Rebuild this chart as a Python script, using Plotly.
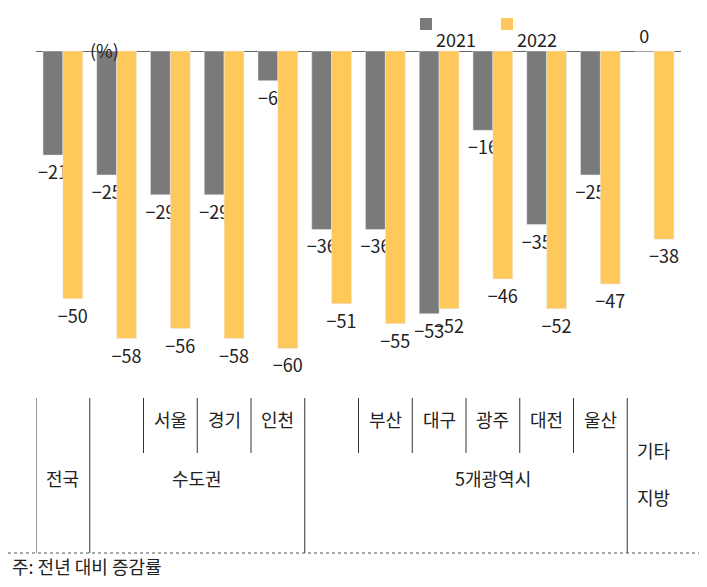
import plotly.graph_objects as go

categories = ["전국", "수도권", "서울", "경기", "인천", "5개광역시", "부산", "대구", "광주", "대전", "울산", "기타지방"]
y2021 = [-21, -25, -29, -29, -6, -36, -36, -53, -16, -35, -25, 0]
y2022 = [-50, -58, -56, -58, -60, -51, -55, -52, -46, -52, -47, -38]

FONT = "Noto Sans CJK KR"
GREY = "#7a7a7a"
YELLOW = "#FFC85A"

# plot area in pixels: x 28..673, y 43..390
TOP, BOT = 43, 390
L, R = 28, 673


def py(p):
    return (BOT - p) / (BOT - TOP)


def px(p):
    return (p - L) / (R - L)


def lab(v):
    return str(v).replace("-", "\u2212")


fig = go.Figure()
fig.add_trace(go.Bar(x=list(range(12)), y=y2021, name="2021", marker_color=GREY,
                     text=[lab(v) for v in y2021], textposition="outside", cliponaxis=False,
                     constraintext="none", textfont=dict(size=18, color="#222")))
fig.add_trace(go.Bar(x=list(range(12)), y=y2022, name="2022", marker_color=YELLOW,
                     text=[lab(v) for v in y2022], textposition="outside", cliponaxis=False,
                     constraintext="none", textfont=dict(size=18, color="#222")))

shapes = []
line = dict(color="#333", width=1)
for xv in [-0.5, 0.5, 4.5, 10.5]:
    shapes.append(dict(type="line", xref="x", yref="paper", x0=xv, x1=xv, y0=py(390), y1=py(545), line=line))
for xv in [1.5, 2.5, 3.5, 5.5, 6.5, 7.5, 8.5, 9.5]:
    shapes.append(dict(type="line", xref="x", yref="paper", x0=xv, x1=xv, y0=py(390), y1=py(445), line=line))
shapes.append(dict(type="line", xref="paper", yref="paper", x0=px(0), x1=px(707),
                   y0=py(545), y1=py(545), line=dict(color="#555", width=1, dash="dot")))
# manual legend swatches
for x0, c in [(412, GREY), (493, YELLOW)]:
    shapes.append(dict(type="rect", xref="paper", yref="paper", x0=px(x0), x1=px(x0 + 12),
                       y0=py(22), y1=py(10), fillcolor=c, line=dict(width=0)))

ann = []
for i in [2, 3, 4, 6, 7, 8, 9, 10]:
    ann.append(dict(x=i, y=py(426), xref="x", yref="paper", text=categories[i], showarrow=False,
                    font=dict(size=18, color="#222")))
for xv, txt in [(0, "전국"), (2.5, "수도권"), (8, "5개광역시")]:
    ann.append(dict(x=xv, y=py(485), xref="x", yref="paper", text=txt, showarrow=False,
                    font=dict(size=18, color="#222")))
ann.append(dict(x=11, y=py(504), xref="x", yref="paper", text="기타<br><br>지방", showarrow=False,
                font=dict(size=18, color="#222")))
ann.append(dict(x=px(80), y=py(27), xref="paper", yref="paper", text="(%)", showarrow=False,
                font=dict(size=18, color="#222")))
ann.append(dict(x=px(426), y=py(16), xref="paper", yref="paper", text="2021", showarrow=False,
                xanchor="left", font=dict(size=18, color="#222")))
ann.append(dict(x=px(507), y=py(16), xref="paper", yref="paper", text="2022", showarrow=False,
                xanchor="left", font=dict(size=18, color="#222")))
ann.append(dict(x=px(2), y=py(573), xref="paper", yref="paper", text="주: 전년 대비 증감률",
                showarrow=False, xanchor="left", font=dict(size=18, color="#222")))

fig.update_layout(
    width=707, height=587,
    margin=dict(l=L, r=707 - R, t=TOP, b=587 - BOT, autoexpand=False),
    plot_bgcolor="white", paper_bgcolor="white",
    font=dict(family=FONT, size=18, color="#222"),
    barmode="group", bargap=0.26, bargroupgap=0,
    showlegend=False,
    xaxis=dict(range=[-0.5, 11.5], showticklabels=False, showgrid=False, zeroline=False),
    yaxis=dict(range=[-70, 0], showticklabels=False, showgrid=False, zeroline=True,
               zerolinecolor="#666", zerolinewidth=1),
    shapes=shapes, annotations=ann,
)
fig.write_html("out.html")
